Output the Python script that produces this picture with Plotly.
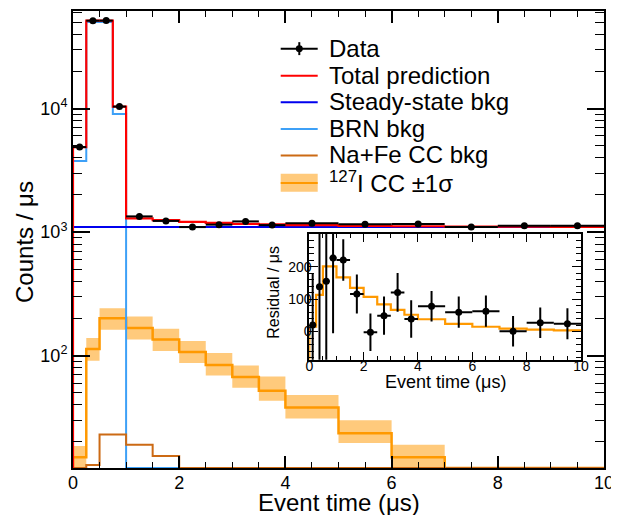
import plotly.graph_objects as go

# ---------------- data (per-µs rates) ----------------
edges = [0.0, 0.25, 0.5, 0.75, 1.0, 1.5, 2.0, 2.5, 3.0, 3.5, 4.0, 5.0, 6.0, 7.0, 8.0, 9.0, 10.0]
data_rate = [4880, 51480, 51560, 10380, 1340, 1231, 1098, 1149, 1221, 1139, 1178, 1160, 1163, 1101, 1127, 1124]
data_err = [160, 450, 450, 232, 64, 60, 58, 59, 60, 58, 47, 48, 48, 47, 47, 48]
total_pred = [4870, 51480, 51570, 10354, 1290, 1251, 1208, 1186, 1167, 1153, 1138, 1124, 1115, 1109, 1106, 1104]
steady_bkg = [1100, 1100, 1100, 1100, 1100, 1100, 1100, 1100, 1100, 1100, 1100, 1100, 1100, 1100, 1100, 1100]
brn_bkg = [3760, 50250, 50250, 9030, 5, 2, 0.5, 0.2, 0.1, 0.05, 0.02, 0.01, 0.01, 0.01, 0.01, 0.01]
nafe_bkg = [1, 13, 23, 23, 19, 15.4, 3, 1.5, 0.8, 0.5, 0.3, 0.2, 0.1, 0.1, 0.05, 0.05]
cc_pred = [15, 113, 201, 201, 167, 135, 107, 84, 67, 52, 38, 23.5, 15, 9, 6, 4]
cc_lo = [11.5, 91, 162, 162, 135, 109, 87, 69, 55, 43, 31, 19.6, 12, 7.2, 4.8, 3.2]
cc_hi = [18.5, 139, 242, 242, 207, 165, 131, 105, 83, 67.7, 48, 30, 19, 11, 7.3, 4.9]
residual = [20, 138, 155, 227, 221, 116, -2, 49, 121, 39, 78, 60, 63, 1, 27, 24]

legend_labels = ["Data", "Total prediction", "Steady-state bkg", "BRN bkg",
                 "Na+Fe CC bkg", "<sup>127</sup>I CC \u00b11\u03c3"]

# ---------------- styling ----------------
FONT = "Liberation Sans, Arial, Helvetica, sans-serif"
C_RED = "#ff0000"
C_BLUE = "#0000ee"
C_LBLUE = "#3da0f7"
C_BROWN = "#cc6a14"
C_ORANGE = "#ff9900"
C_BAND = "#ffca7c"

Y_LOG_RANGE = [1.09, 4.79]
Y_FLOOR = 10 ** Y_LOG_RANGE[0]
INSET_YRANGE = [-87, 302]

centers = [(a + b) / 2 for a, b in zip(edges[:-1], edges[1:])]
halfw = [(b - a) / 2 for a, b in zip(edges[:-1], edges[1:])]


def step(vals, floor):
    """ROOT-like histogram outline: rise from the frame bottom at the first edge."""
    v = [max(x, floor) for x in vals]
    return [edges[0]] + edges, [floor] + v + [v[-1]]


fig = go.Figure()

# ---- CC ±1σ band (main) ----
xl, yl = step(cc_lo, Y_FLOOR)
xh, yh = step(cc_hi, Y_FLOOR)
fig.add_trace(go.Scatter(x=xl[1:], y=yl[1:], mode="lines", line=dict(width=0, shape="hv", color=C_BAND),
                         hoverinfo="skip", showlegend=False))
fig.add_trace(go.Scatter(x=xh[1:], y=yh[1:], mode="lines", line=dict(width=0, shape="hv", color=C_BAND),
                         fill="tonexty", fillcolor=C_BAND, hoverinfo="skip", showlegend=False))

# ---- histogram outlines ----
for vals, col, w in [(cc_pred, C_ORANGE, 2.5), (brn_bkg, C_LBLUE, 2), (nafe_bkg, C_BROWN, 2),
                     (steady_bkg, C_BLUE, 2), (total_pred, C_RED, 2.2)]:
    xs, ys = step(vals, Y_FLOOR)
    fig.add_trace(go.Scatter(x=xs, y=ys, mode="lines", line=dict(color=col, width=w, shape="hv"),
                             showlegend=False))

# ---- data ----
fig.add_trace(go.Scatter(x=centers, y=data_rate, mode="markers",
                         marker=dict(color="black", size=7),
                         error_x=dict(type="data", array=halfw, width=0, thickness=2, color="black"),
                         error_y=dict(type="data", array=data_err, width=0, thickness=2, color="black"),
                         showlegend=False))

# ---- inset ----
xs_in = [edges[0]] + edges
ys_in = [INSET_YRANGE[0]] + cc_pred + [cc_pred[-1]]
fig.add_trace(go.Scatter(x=xs_in, y=ys_in, mode="lines", line=dict(color=C_ORANGE, width=2.2, shape="hv"),
                         xaxis="x2", yaxis="y2", showlegend=False))
fig.add_trace(go.Scatter(x=centers, y=residual, mode="markers", marker=dict(color="black", size=7),
                         error_x=dict(type="data", array=halfw, width=0, thickness=2, color="black"),
                         error_y=dict(type="data", array=data_err, width=0, thickness=2, color="black"),
                         xaxis="x2", yaxis="y2", showlegend=False))

# ---------------- geometry helpers (page pixels -> paper) ----------------
BODY = 8  # default page margin of the html body
W, H = 619, 515
PL, PR, PT, PB = 73, 604, 9, 468


def px(x):
    return (x - PL) / (PR - PL)


def py(y):
    return (PB - y) / (PB - PT)


axis_common = dict(showline=True, linewidth=2, linecolor="black", mirror="ticks", ticks="inside",
                   tickcolor="black", showgrid=False, zeroline=False)

minor_log = [v * m for v in (10, 100, 1000, 10000) for m in range(2, 10)]

fig.update_layout(
    width=W - BODY, height=H - BODY,
    margin=dict(l=PL - BODY, r=W - PR, t=PT - BODY, b=H - PB),
    paper_bgcolor="white", plot_bgcolor="white",
    font=dict(family=FONT, color="black"),
    showlegend=False,
    xaxis=dict(range=[0, 10], domain=[0, 1], tickvals=[0, 2, 4, 6, 8, 10], ticklen=12, tickwidth=1.5,
               tickfont=dict(size=18), ticklabelstandoff=-3,
               minor=dict(dtick=0.5, tick0=0, ticks="inside", ticklen=6, tickwidth=1, tickcolor="black",
                          showgrid=False),
               **axis_common),
    yaxis=dict(type="log", range=Y_LOG_RANGE, domain=[0, 1], tickvals=[100, 1000, 10000],
               ticktext=["10<sup>2</sup>", "10<sup>3</sup>", "10<sup>4</sup>"], ticklen=17, tickwidth=1.5,
               tickfont=dict(size=18),
               minor=dict(tickmode="array", tickvals=minor_log, ticks="inside", ticklen=9, tickwidth=1,
                          tickcolor="black", showgrid=False),
               **axis_common),
    xaxis2=dict(range=[0, 10], domain=[px(309.3), px(581)], anchor="y2", tickvals=[0, 2, 4, 6, 8, 10],
                ticklen=8, tickwidth=1.2, tickfont=dict(size=14), ticklabelstandoff=-8,
                minor=dict(dtick=0.5, tick0=0, ticks="inside", ticklen=4, tickwidth=1, tickcolor="black",
                           showgrid=False),
                **axis_common),
    yaxis2=dict(range=INSET_YRANGE, domain=[py(359.3), py(232.7)], anchor="x2", tickvals=[0, 100, 200],
                ticklen=9, tickwidth=1.2, tickfont=dict(size=14), ticklabelstandoff=-7,
                minor=dict(dtick=20, tick0=0, ticks="inside", ticklen=5, tickwidth=1, tickcolor="black",
                           showgrid=False),
                **axis_common),
)

annotations = [
    dict(text="Event time (\u03bcs)", x=px(338.5), y=py(503), font=dict(size=24)),
    dict(text="Counts / \u03bcs", x=px(25), y=py(241), textangle=-90, font=dict(size=24)),
    dict(text="Event time (\u03bcs)", x=px(445), y=py(382), font=dict(size=18)),
    dict(text="Residual / \u03bcs", x=px(274), y=py(292), textangle=-90, font=dict(size=16)),
]
for a in annotations:
    a.update(xref="paper", yref="paper", showarrow=False, xanchor="center", yanchor="middle")

# ---------------- manual ROOT-style legend ----------------
LX0, LX1, LTX = 280.7, 317.7, 326.7
rows_y = [46.8, 73.4, 100.0, 126.7, 153.4, 181.0]
shapes = []
# Data: cross with dot
shapes.append(dict(type="line", x0=px(LX0), x1=px(LX1), y0=py(rows_y[0]), y1=py(rows_y[0]),
                   line=dict(color="black", width=2)))
shapes.append(dict(type="line", x0=px(299.3), x1=px(299.3), y0=py(rows_y[0] - 6.5), y1=py(rows_y[0] + 6.5),
                   line=dict(color="black", width=2)))
shapes.append(dict(type="circle", x0=px(299.3 - 3.5), x1=px(299.3 + 3.5), y0=py(rows_y[0] - 3.5),
                   y1=py(rows_y[0] + 3.5), fillcolor="black", line=dict(color="black", width=0)))
for ry, col in zip(rows_y[1:5], [C_RED, C_BLUE, C_LBLUE, C_BROWN]):
    shapes.append(dict(type="line", x0=px(LX0), x1=px(LX1), y0=py(ry + 0.7), y1=py(ry + 0.7),
                       line=dict(color=col, width=2)))
shapes.append(dict(type="rect", x0=px(LX0), x1=px(LX1), y0=py(rows_y[5] - 8.5), y1=py(rows_y[5] + 9.5),
                   fillcolor=C_BAND, line=dict(width=0)))
shapes.append(dict(type="line", x0=px(LX0), x1=px(LX1), y0=py(rows_y[5] + 0.7), y1=py(rows_y[5] + 0.7),
                   line=dict(color=C_ORANGE, width=2)))
for s in shapes:
    s.update(xref="paper", yref="paper", layer="above")

for ry, lab in zip(rows_y, legend_labels):
    annotations.append(dict(text=lab, x=px(LTX), y=py(ry), xref="paper", yref="paper", showarrow=False,
                            xanchor="left", yanchor="middle", font=dict(size=24)))

fig.update_layout(annotations=annotations, shapes=shapes)

fig.write_html("out.html")
